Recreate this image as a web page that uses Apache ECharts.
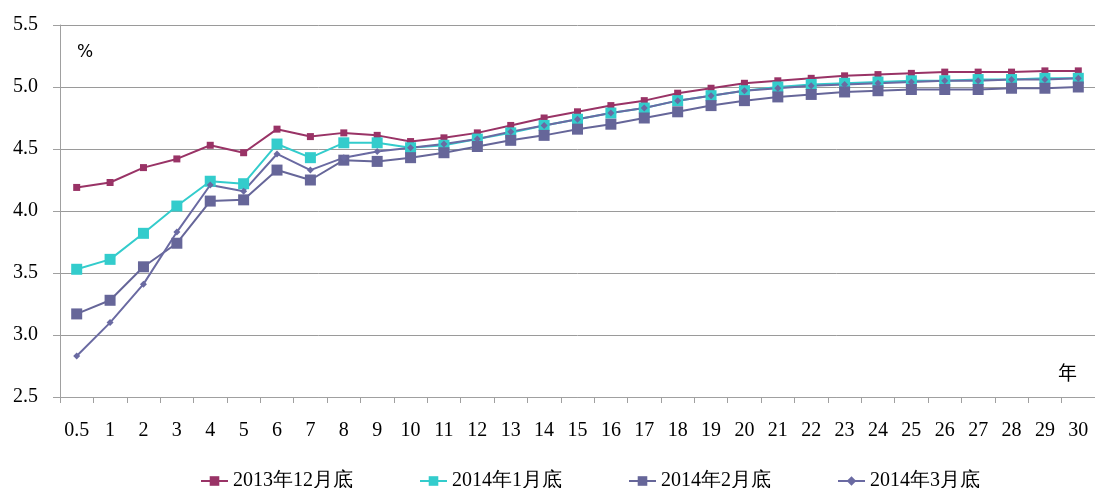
<!DOCTYPE html>
<html>
<head>
<meta charset="utf-8">
<script src="https://cdn.jsdelivr.net/npm/echarts@6/dist/echarts.min.js"></script>
<style>html,body{margin:0;padding:0;background:#fff;}#c{width:1095px;height:488px;}</style>
</head>
<body>
<div id="c"></div>
<script>
const categories = ['0.5','1','2','3','4','5','6','7','8','9','10','11','12','13','14','15','16','17','18','19','20','21','22','23','24','25','26','27','28','29','30'];
const seriesNames = ['2013年12月底','2014年1月底','2014年2月底','2014年3月底'];
const dec2013 = [4.19,4.23,4.35,4.42,4.53,4.47,4.66,4.60,4.63,4.61,4.56,4.59,4.63,4.69,4.75,4.80,4.85,4.89,4.95,4.99,5.03,5.05,5.07,5.09,5.10,5.11,5.12,5.12,5.12,5.13,5.13];
const jan2014 = [3.53,3.61,3.82,4.04,4.24,4.22,4.54,4.43,4.55,4.55,4.51,4.53,4.58,4.63,4.69,4.74,4.79,4.83,4.89,4.93,4.97,5.00,5.02,5.03,5.04,5.05,5.05,5.06,5.06,5.07,5.07];
const feb2014 = [3.17,3.28,3.55,3.74,4.08,4.09,4.33,4.25,4.41,4.40,4.43,4.47,4.52,4.57,4.61,4.66,4.70,4.75,4.80,4.85,4.89,4.92,4.94,4.96,4.97,4.98,4.98,4.98,4.99,4.99,5.00];
const mar2014 = [2.83,3.10,3.41,3.83,4.21,4.16,4.46,4.33,4.43,4.48,4.51,4.54,4.58,4.64,4.69,4.74,4.79,4.83,4.89,4.93,4.97,4.99,5.01,5.02,5.03,5.04,5.05,5.05,5.06,5.06,5.07];
const yMin = 2.5, yMax = 5.5, yStep = 0.5;

const serif = '"Liberation Serif", "Times New Roman", serif';
const axisGray = '#a0a0a0';
const chart = echarts.init(document.getElementById('c'), null, {renderer: 'canvas'});

function mk(name, data, color, symbol, size) {
  return {
    name: name, type: 'line', data: data, symbol: symbol, symbolSize: size,
    lineStyle: {color: color, width: 2}, itemStyle: {color: color},
    emphasis: {disabled: true}, animation: false
  };
}

chart.setOption({
  animation: false,
  textStyle: {fontFamily: serif},
  grid: {left: 60, top: 25, width: 1042, height: 372},
  xAxis: {
    type: 'category', data: categories, boundaryGap: true,
    axisLine: {show: true, lineStyle: {color: axisGray, width: 1}},
    axisTick: {show: true, alignWithLabel: false, length: 6, lineStyle: {color: axisGray}},
    axisLabel: {color: '#000', fontSize: 20, fontFamily: serif, margin: 24, interval: 0},
    splitLine: {show: false}
  },
  yAxis: {
    type: 'value', min: yMin, max: yMax, interval: yStep,
    axisLine: {show: true, lineStyle: {color: axisGray, width: 1}},
    axisTick: {show: true, length: 7, inside: false, lineStyle: {color: axisGray}},
    axisLabel: {color: '#000', fontSize: 20, fontFamily: serif, margin: 22, formatter: v => v.toFixed(1)},
    splitLine: {show: true, lineStyle: {color: '#9a9a9a', width: 1}}
  },
  legend: {
    data: seriesNames, top: 466, left: 195, itemGap: 66, itemWidth: 27, itemHeight: 12,
    textStyle: {color: '#000', fontSize: 20, fontFamily: serif, width: 118, overflow: 'none'}
  },
  graphic: [
    {type: 'text', left: 77, top: 44, style: {text: '%', fontSize: 17, fontFamily: '"DejaVu Sans", sans-serif', fill: '#000'}},
    {type: 'text', left: 1058, top: 363, style: {text: '年', fontSize: 19, fontFamily: '"Noto Sans CJK SC", sans-serif', fill: '#000'}}
  ],
  series: [
    mk(seriesNames[0], dec2013, '#993366', 'rect', 7),
    mk(seriesNames[1], jan2014, '#33CCCC', 'rect', 11),
    mk(seriesNames[2], feb2014, '#666699', 'rect', 11),
    mk(seriesNames[3], mar2014, '#6a6aa2', 'diamond', 7)
  ]
});
</script>
</body>
</html>
